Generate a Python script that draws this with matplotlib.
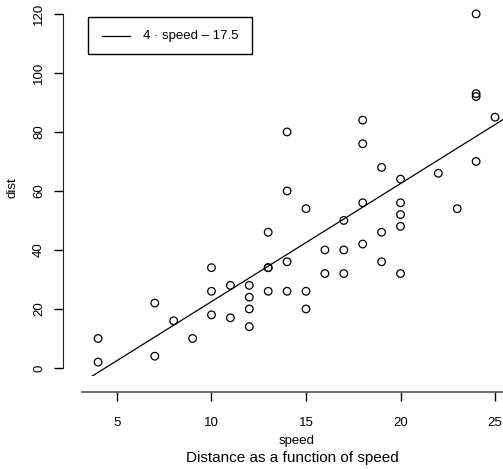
import matplotlib
matplotlib.use("Agg")
import matplotlib.pyplot as plt
import numpy as np
from matplotlib.patches import Rectangle
from matplotlib.lines import Line2D

speed = [4, 4, 7, 7, 8, 9, 10, 10, 10, 11, 11, 12, 12, 12, 12, 13, 13, 13, 13,
         14, 14, 14, 14, 15, 15, 15, 16, 16, 17, 17, 17, 18, 18, 18, 18, 19, 19,
         19, 20, 20, 20, 20, 20, 22, 23, 24, 24, 24, 24, 25]
dist = [2, 10, 4, 22, 16, 10, 18, 26, 34, 17, 28, 14, 20, 24, 28, 26, 34, 34, 46,
        26, 36, 60, 80, 20, 26, 54, 32, 40, 32, 40, 50, 42, 56, 76, 84, 36, 46,
        68, 32, 48, 52, 56, 64, 66, 54, 70, 92, 93, 120, 85]
slope = 4
intercept = -17.5
xticks = [5, 10, 15, 20, 25]
yticks = [0, 20, 40, 60, 80, 100, 120]
legend_label = "4 \u00b7 speed \u2013 17.5"

plt.rcParams['font.family'] = ['Liberation Sans', 'DejaVu Sans']

W, H = 503, 469
fig = plt.figure(figsize=(W / 100, H / 100), dpi=100)
left_px, right_px = 82.2, 510.9
top_px, bot_px = 0.0, 376.0
ax = fig.add_axes([left_px / W, 1 - bot_px / H, (right_px - left_px) / W, (bot_px - top_px) / H])

ax.scatter(speed, dist, s=30, facecolors='none', edgecolors='black', linewidths=0.9, zorder=3)
xmin, xmax = 3.16, 25.84
ymin, ymax = -2.72, 124.72
xs = np.array([xmin, xmax])
ax.plot(xs, slope * xs + intercept, color='black', lw=0.9)
ax.set_xlim(xmin, xmax)
ax.set_ylim(ymin, ymax)

for s in ['top', 'right']:
    ax.spines[s].set_visible(False)
ax.spines['left'].set_position(('outward', 13.7))
ax.spines['bottom'].set_position(('outward', 11.3))
ax.spines['left'].set_bounds(0, 120)
ax.spines['left'].set_color('#222222')
ax.spines['bottom'].set_color('#555555')
ax.spines['bottom'].set_linewidth(1.2)

ax.set_xticks(xticks)
ax.set_yticks(yticks)
ax.set_yticklabels([str(v) for v in yticks], rotation=90, va='center')
ax.tick_params(axis='both', direction='out', length=6.7, width=1, labelsize=9.5)
ax.tick_params(axis='x', pad=11.3)
ax.tick_params(axis='y', pad=6.3)

ax.set_xlabel("speed", fontsize=9.5, labelpad=4.6)
ax.set_ylabel("dist", fontsize=9.5, labelpad=10.3)
fig.text(0.5 * (82 + 503) / W + 0.0, 1 - 457.7 / H, "Distance as a function of speed",
         ha='center', va='center', fontsize=11)

# legend box
fig.patches.append(Rectangle((88 / W, 1 - 54 / H), (252 - 88) / W, (54 - 17) / H,
                             transform=fig.transFigure, fill=False, edgecolor='black', lw=1))
fig.lines.append(Line2D([102 / W, 130 / W], [1 - 36 / H, 1 - 36 / H],
                        transform=fig.transFigure, color='black', lw=0.9))
fig.text(143 / W, 1 - 36 / H, legend_label, ha='left', va='center', fontsize=9.5)

fig.savefig("out.png", dpi=100)
